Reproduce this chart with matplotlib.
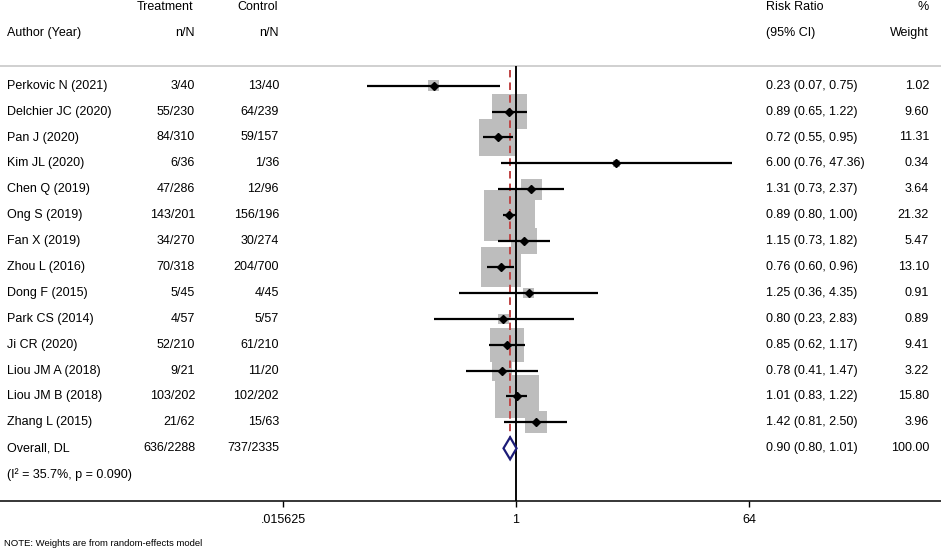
import numpy as np
import matplotlib
matplotlib.use('Agg')
import matplotlib.pyplot as plt

# study data
authors = ['Perkovic N (2021)', 'Delchier JC (2020)', 'Pan J (2020)', 'Kim JL (2020)',
           'Chen Q (2019)', 'Ong S (2019)', 'Fan X (2019)', 'Zhou L (2016)',
           'Dong F (2015)', 'Park CS (2014)', 'Ji CR (2020)', 'Liou JM A (2018)',
           'Liou JM B (2018)', 'Zhang L (2015)']
treatment = ['3/40', '55/230', '84/310', '6/36', '47/286', '143/201', '34/270', '70/318',
             '5/45', '4/57', '52/210', '9/21', '103/202', '21/62']
control = ['13/40', '64/239', '59/157', '1/36', '12/96', '156/196', '30/274', '204/700',
           '4/45', '5/57', '61/210', '11/20', '102/202', '15/63']
rr = [0.23, 0.89, 0.72, 6.00, 1.31, 0.89, 1.15, 0.76, 1.25, 0.80, 0.85, 0.78, 1.01, 1.42]
lo = [0.07, 0.65, 0.55, 0.76, 0.73, 0.80, 0.73, 0.60, 0.36, 0.23, 0.62, 0.41, 0.83, 0.81]
hi = [0.75, 1.22, 0.95, 47.36, 2.37, 1.00, 1.82, 0.96, 4.35, 2.83, 1.17, 1.47, 1.22, 2.50]
weight = [1.02, 9.60, 11.31, 0.34, 3.64, 21.32, 5.47, 13.10, 0.91, 0.89, 9.41, 3.22, 15.80, 3.96]

overall_label = 'Overall, DL'
overall_treat = '636/2288'
overall_ctrl = '737/2335'
overall_rr, overall_lo, overall_hi, overall_w = 0.90, 0.80, 1.01, 100.00
het_text = '(I\u00b2 = 35.7%, p = 0.090)'

tick_vals = [2.0 ** -6, 1, 64]
tick_labels = ['.015625', '1', '64']

plt.rcParams['font.family'] = ['Liberation Sans', 'DejaVu Sans']
fs = 9

W, H = 941, 551
fig = plt.figure(figsize=(W / 100, H / 100), dpi=100)
# axis line sits at pixel row 501, y data is in pixel rows from the top
ax = fig.add_axes([0, (H - 501) / H, 1, 501 / H])
ax.set_xscale('log', base=2)
ax.set_xlim(2.0 ** (-516 / 38.83), 2.0 ** ((W - 516) / 38.83))
ax.set_ylim(501, 0)
for s in ['left', 'right', 'top']:
    ax.spines[s].set_visible(False)
ax.spines['bottom'].set_linewidth(1.1)
ax.set_yticks([])
ax.set_xticks(tick_vals)
ax.set_xticklabels(tick_labels)
ax.minorticks_off()
ax.tick_params(axis='x', direction='out', length=4.5, width=1.0, labelsize=fs, pad=5)

px_per_log2 = 38.83
row0, step = 85.7, 25.9
ys = [row0 + step * i for i in range(len(authors))]
y_over = row0 + step * len(authors)
y_het = y_over + step

tr = ax.get_yaxis_transform()  # x axes fraction, y data

def col(px):
    return px / W

# header
ax.text(col(193), 7, 'Treatment', transform=tr, ha='right', va='center', fontsize=fs)
ax.text(col(278), 7, 'Control', transform=tr, ha='right', va='center', fontsize=fs)
ax.text(col(766), 7, 'Risk Ratio', transform=tr, ha='left', va='center', fontsize=fs)
ax.text(col(929), 7, '%', transform=tr, ha='right', va='center', fontsize=fs)
ax.text(col(7), 33, 'Author (Year)', transform=tr, ha='left', va='center', fontsize=fs)
ax.text(col(195), 33, 'n/N', transform=tr, ha='right', va='center', fontsize=fs)
ax.text(col(279), 33, 'n/N', transform=tr, ha='right', va='center', fontsize=fs)
ax.text(col(766), 33, '(95% CI)', transform=tr, ha='left', va='center', fontsize=fs)
ax.text(col(929), 33, 'Weight', transform=tr, ha='right', va='center', fontsize=fs)
ax.axhline(66, color='#c8c8c8', lw=1.2)

# reference lines
ax.vlines(1, 66, 501, colors='black', lw=1.1)
ax.vlines(overall_rr, 70, 460, colors='#c04848', lw=1.3, linestyles=(0, (4, 3)))

# weight squares, side proportional to sqrt(weight)
for y, r, w in zip(ys, rr, weight):
    side = 11.05 * np.sqrt(w)
    h = side / 2 / px_per_log2
    ax.barh(y, r * 2 ** h - r * 2 ** -h, left=r * 2 ** -h, height=side,
            color='#bdbdbd', edgecolor='none', zorder=1)

ax.vlines(1, 66, 501, colors='black', lw=1.1, zorder=2)
ax.vlines(overall_rr, 70, 460, colors='#c04848', lw=1.3, linestyles=(0, (4, 3)), zorder=2)

# CIs and point estimates
for y, r, l, u in zip(ys, rr, lo, hi):
    ax.plot([l, u], [y, y], color='black', lw=1.6, solid_capstyle='butt', zorder=3)
ax.plot(rr, ys, 'D', color='black', markersize=4, zorder=4)

# pooled diamond
ax.fill([overall_lo, overall_rr, overall_hi, overall_rr],
        [y_over, y_over - 11, y_over, y_over + 11],
        facecolor='white', edgecolor='#1c1c78', lw=1.6, zorder=5)

# table text
for y, a, t, c, r, l, u, w in zip(ys, authors, treatment, control, rr, lo, hi, weight):
    ax.text(col(7), y, a, transform=tr, ha='left', va='center', fontsize=fs)
    ax.text(col(195), y, t, transform=tr, ha='right', va='center', fontsize=fs)
    ax.text(col(279), y, c, transform=tr, ha='right', va='center', fontsize=fs)
    ax.text(col(766), y, '%.2f (%.2f, %.2f)' % (r, l, u), transform=tr, ha='left',
            va='center', fontsize=fs)
    ax.text(col(929), y, '%.2f' % w, transform=tr, ha='right', va='center', fontsize=fs)

ax.text(col(7), y_over, overall_label, transform=tr, ha='left', va='center', fontsize=fs)
ax.text(col(195), y_over, overall_treat, transform=tr, ha='right', va='center', fontsize=fs)
ax.text(col(279), y_over, overall_ctrl, transform=tr, ha='right', va='center', fontsize=fs)
ax.text(col(766), y_over, '%.2f (%.2f, %.2f)' % (overall_rr, overall_lo, overall_hi),
        transform=tr, ha='left', va='center', fontsize=fs)
ax.text(col(929), y_over, '%.2f' % overall_w, transform=tr, ha='right', va='center', fontsize=fs)
ax.text(col(7), y_het, het_text, transform=tr, ha='left', va='center', fontsize=fs)

fig.text(4 / W, 1 - 544 / H, 'NOTE: Weights are from random-effects model',
         ha='left', va='center', fontsize=6.8)

fig.savefig('out.png', dpi=100, facecolor='white')
